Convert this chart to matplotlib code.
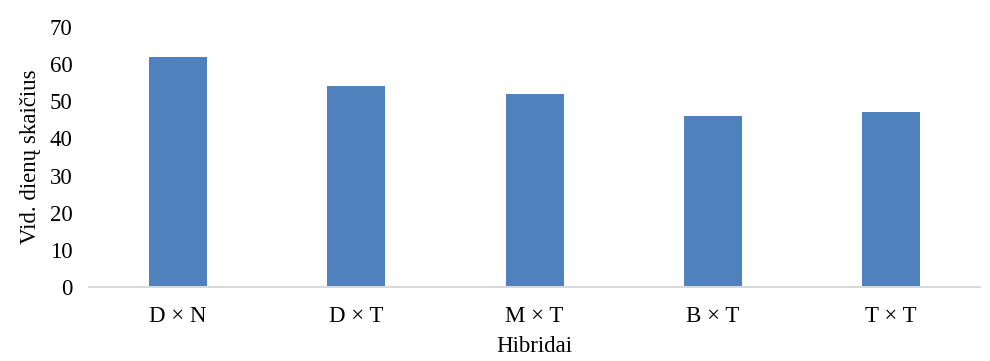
import matplotlib.pyplot as plt

# Average number of days per hybrid
hybrids = ["D \u00d7 N", "D \u00d7 T", "M \u00d7 T", "B \u00d7 T", "T \u00d7 T"]
days = [62, 54, 52, 46, 47]
y_ticks = [0, 10, 20, 30, 40, 50, 60, 70]

plt.rcParams['font.family'] = ['Liberation Serif', 'DejaVu Serif']

fig = plt.figure(figsize=(9.9, 3.61), dpi=100)
ax = fig.add_axes([0.09, 0.205, 0.9, 0.72])

ax.bar(range(len(hybrids)), days, width=0.325, color='#4F81BD', zorder=2)

ax.set_xlim(-0.5, len(hybrids) - 0.5)
ax.set_ylim(0, 70)
ax.set_yticks(y_ticks)
ax.set_xticks(range(len(hybrids)))
ax.set_xticklabels(hybrids)
ax.tick_params(axis='both', length=0, labelsize=16.5, colors='black')
ax.tick_params(axis='x', pad=14)
ax.tick_params(axis='y', pad=12)

for side in ['top', 'right', 'left']:
    ax.spines[side].set_visible(False)
ax.spines['bottom'].set_color('#D9D9D9')
ax.spines['bottom'].set_linewidth(1.5)

ax.set_xlabel("Hibridai", fontsize=16.5, labelpad=6)
ax.set_ylabel("Vid. dien\u0173 skai\u010dius", fontsize=16.5, labelpad=6)

fig.savefig("out.png", dpi=100)
